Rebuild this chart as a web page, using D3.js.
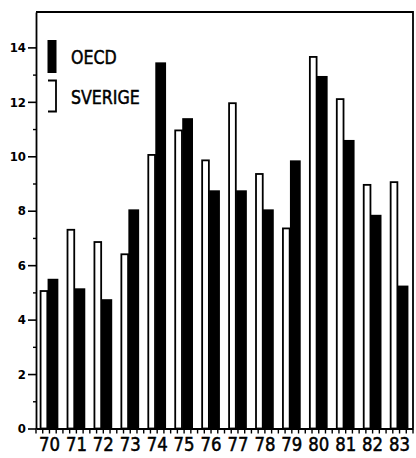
<!DOCTYPE html>
<html><head><meta charset="utf-8">
<script src="https://cdn.jsdelivr.net/npm/d3@7"></script>
<style>
html,body{margin:0;padding:0;background:#fff;}
svg{display:block;}
.lbl{font-family:"Liberation Sans Narrow","DejaVu Sans Condensed","Liberation Sans",sans-serif;}
</style></head>
<body><svg id="c" width="416" height="458"></svg>
<script>
const years = ["70","71","72","73","74","75","76","77","78","79","80","81","82","83"];
const sverige = [5.05, 7.3, 6.85, 6.4, 10.05, 10.95, 9.85, 11.95, 9.35, 7.35, 13.65, 12.1, 8.95, 9.05];
const oecd    = [5.5, 5.15, 4.75, 8.05, 13.45, 11.4, 8.75, 8.75, 8.05, 9.85, 12.95, 10.6, 7.85, 5.25];
const yTicks = [0, 2, 4, 6, 8, 10, 12, 14];
const yMinor = [1, 3, 5, 7, 9, 11, 13];
const legend = [{name:"OECD", type:"black"}, {name:"SVERIGE", type:"white"}];

const svg = d3.select("#c");
const x = d3.scaleBand().domain(years).range([36, 413]).padding(0);
const y = d3.scaleLinear().domain([0, 15.3]).range([428.5, 12]);
const step = x.bandwidth();
const cx = d => x(d) + step / 2;

// bars
const g = svg.append("g");
g.selectAll("rect.sv").data(years).join("rect").attr("class","sv")
  .attr("x", d => cx(d) - 0.33*step)
  .attr("width", 0.25*step)
  .attr("y", (d,i) => y(sverige[i]))
  .attr("height", (d,i) => y(0) - y(sverige[i]))
  .attr("fill", "#fff").attr("stroke", "#000").attr("stroke-width", 1.8);
g.selectAll("rect.oe").data(years).join("rect").attr("class","oe")
  .attr("x", d => cx(d) - 0.07*step)
  .attr("width", 0.40*step)
  .attr("y", (d,i) => y(oecd[i]))
  .attr("height", (d,i) => y(0) - y(oecd[i]))
  .attr("fill", "#000");

// frame: top and right
svg.append("path")
  .attr("d", `M${x.range()[0]},${y(15.3)}H${x.range()[1]}V${y(0)}`)
  .attr("fill","none").attr("stroke","#000").attr("stroke-width",1.8);

// y axis
const ya = svg.append("g").attr("transform","translate(36,0)")
  .call(d3.axisLeft(y).tickValues(yTicks).tickFormat(d3.format("d")).tickSize(8).tickSizeOuter(0).tickPadding(2));
ya.select(".domain").attr("stroke-width",1.8);
ya.selectAll(".tick line").attr("stroke-width",1.6);
ya.selectAll(".tick text").attr("class","lbl").attr("font-size",13).attr("font-weight","bold").attr("fill","#000");
const ym = svg.append("g").attr("transform","translate(36,0)")
  .call(d3.axisLeft(y).tickValues(yMinor).tickFormat("").tickSize(3).tickSizeOuter(0));
ym.select(".domain").remove();
ym.selectAll(".tick line").attr("stroke-width",1.4);

// x axis
const xa = svg.append("g").attr("transform",`translate(0,${y(0)})`)
  .call(d3.axisBottom(x).tickSize(0).tickPadding(12).tickSizeOuter(0));
xa.select(".domain").attr("stroke-width",1.8);
xa.selectAll(".tick text").attr("class","lbl").attr("font-size",20).attr("fill","#000")
  .attr("stroke","#000").attr("stroke-width",0.5).attr("dy","0.55em")
  .attr("transform","scale(0.92,1)");
// minor x ticks at quarters
const qs = d3.scaleLinear().domain([0, years.length*4]).range(x.range());
const qticks = d3.range(0, years.length*4 + 1);
svg.append("g").selectAll("line").data(qticks).join("line")
  .attr("x1", d => qs(d)).attr("x2", d => qs(d))
  .attr("y1", y(0)).attr("y2", y(0) + 5)
  .attr("stroke","#000").attr("stroke-width",1.4);

// legend
const lg = svg.append("g");
lg.append("rect").attr("x",47.5).attr("y",40).attr("width",9).attr("height",33).attr("fill","#000");
lg.append("path").attr("d","M48,80.5H56V111.5H48").attr("fill","none").attr("stroke","#000").attr("stroke-width",1.8);
lg.selectAll("text").data(legend).join("text").attr("class","lbl")
  .attr("transform",(d,i)=>`translate(71,${i===0 ? 63.5 : 103.5}) scale(0.88,1)`)
  .attr("font-size",20).attr("fill","#000").attr("stroke","#000").attr("stroke-width",0.5)
  .text(d=>d.name);
</script></body></html>
